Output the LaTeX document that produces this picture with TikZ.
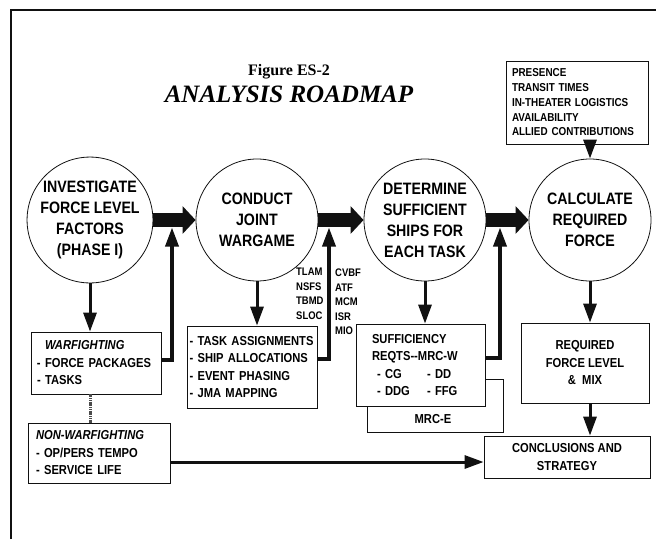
\documentclass[tikz,border=0pt]{standalone}
\usepackage{fontspec}
\setmainfont{Liberation Sans}[FakeStretch=0.86]
\newfontfamily\titlefont{Liberation Serif}
\usepackage{tikz}
\usetikzlibrary{arrows.meta,positioning,calc}
\definecolor{clInk}{HTML}{111111}
\definecolor{clLink}{HTML}{4A4A4A}
\tikzset{
  stage/.style={circle, draw=clInk, line width=0.8pt, minimum size=122pt, inner sep=0pt,
                align=center, font=\fontsize{16.5}{21}\selectfont\bfseries},
  box/.style={rectangle, draw=clInk, line width=0.8pt, fill=white, inner xsep=6pt, inner ysep=0pt,
              font=\fontsize{13}{17.5}\selectfont\bfseries},
  listbox/.style={box, align=left},
  centbox/.style={box, align=center},
  tag/.style={inner sep=0pt, align=left, font=\fontsize{11}{14.5}\selectfont\bfseries},
  bigflow/.style={-{Triangle[length=13pt,width=27pt]}, line width=14pt, draw=clInk},
  flow/.style={-{Triangle[length=19pt,width=13pt]}, line width=3pt, draw=clInk},
  backflow/.style={flow, line width=3.5pt},
  link/.style={line width=3pt, draw=clLink, dash pattern=on 1.2pt off 0.6pt},
}

\begin{document}
\begin{tikzpicture}[x=1pt, y=-1pt]
  \useasboundingbox (0,0) rectangle (656,539);
  \draw[line width=1.2pt, clInk] (11,539) -- (11,10) -- (656,10);

  % title
  \node[font=\titlefont\bfseries\fontsize{16}{18}\selectfont] (fig) at (289,72) {Figure ES-2};
  \node[font=\titlefont\bfseries\itshape\fontsize{25}{28}\selectfont] (ttl) at (289,94) {ANALYSIS ROADMAP};

  % stages
  \node[stage] (c1) at (90,220) {INVESTIGATE\\FORCE LEVEL\\FACTORS\\(PHASE I)};
  \node[stage] (c2) at (257,220) {CONDUCT\\JOINT\\WARGAME};
  \node[stage] (c3) at (425,220) {DETERMINE\\SUFFICIENT\\SHIPS FOR\\EACH TASK};
  \node[stage] (c4) at (590,220) {CALCULATE\\REQUIRED\\FORCE};
  \draw[bigflow] (c1) -- (c2); \draw[bigflow] (c2) -- (c3); \draw[bigflow] (c3) -- (c4);

  % inputs and outputs
  \node[listbox, text width=130pt, minimum height=83pt, font=\fontsize{11.5}{14.75}\selectfont\bfseries]
    (top) at (577,102.5) {PRESENCE\\TRANSIT TIMES\\IN-THEATER LOGISTICS\\AVAILABILITY\\ALLIED CONTRIBUTIONS};
  \node[listbox, text width=118pt, minimum height=62pt] (war) at (96,363)
    {\hspace*{8pt}\textit{WARFIGHTING}\\- FORCE PACKAGES\\- TASKS};
  \node[listbox, inner xsep=8pt, text width=126pt, minimum height=60pt] (nonwar) at (99,453)
    {\textit{NON-WARFIGHTING}\\- OP/PERS TEMPO\\- SERVICE LIFE};
  \node[listbox, inner xsep=2.5pt, text width=125pt, minimum height=82pt] (task) at (252,367)
    {- TASK ASSIGNMENTS\\- SHIP ALLOCATIONS\\- EVENT PHASING\\- JMA MAPPING};
  \node[box, minimum width=136pt, minimum height=53pt] (mrce) at (435,405.5) {};
  \node[font=\fontsize{13}{17.5}\selectfont\bfseries] (mrcelbl) at (433,419) {MRC-E};
  \node[listbox, inner xsep=16pt, text width=97pt, minimum height=82pt] (suff) at (420.5,365)
    {SUFFICIENCY\\REQTS-{}-MRC-W\\\hspace*{5pt}\makebox[50pt][l]{- CG}- DD\\\hspace*{5pt}\makebox[50pt][l]{- DDG}- FFG};
  \node[centbox, minimum width=128pt, minimum height=80pt] (req) at (585,363) {REQUIRED\\FORCE LEVEL\\\&\ \ MIX};
  \node[centbox, minimum width=166pt, minimum height=42pt] (concl) at (567,457) {CONCLUSIONS AND\\STRATEGY};

  \node[tag, anchor=west] (tasksA) at (296,294) {TLAM\\NSFS\\TBMD\\SLOC};
  \node[tag, anchor=west] (tasksB) at (335,302) {CVBF\\ATF\\MCM\\ISR\\MIO};

  % connectors
  \draw[flow] (c1.south) -- (c1.south |- war.north);
  \draw[flow] (c2.south) -- (c2.south |- task.north);
  \draw[flow] (c3.south) -- (c3.south |- suff.north);
  \draw[flow] (c4.south) -- (c4.south |- req.north);
  \draw[flow] (req.south -| c4) -- (concl.north -| c4);
  \draw[flow] (top.south -| c4) -- (c4.north);
  \draw[flow] ([yshift=-9pt]nonwar.east) -- ([yshift=-9pt]nonwar.east -| concl.west);
  \draw[link] (war.south -| c1) -- (nonwar.north -| c1);

  \coordinate (j1) at (172,227.5);
  \coordinate (j2) at (329,227.5);
  \coordinate (j3) at (500,227.5);
  \draw[backflow] ([yshift=3pt]war.east) -| (j1);
  \draw[backflow] ([yshift=8pt]task.east) -| (j2);
  \draw[backflow] ([yshift=7pt]suff.east) -| (j3);
\end{tikzpicture}
\end{document}
